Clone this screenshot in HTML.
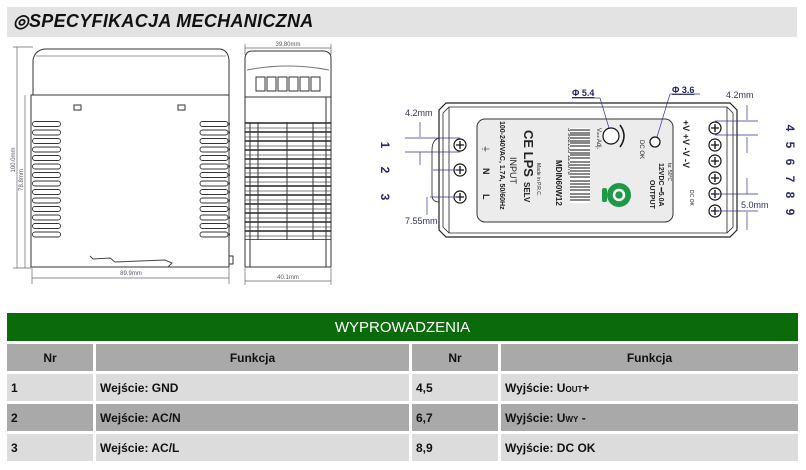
<!DOCTYPE html>
<html><head><meta charset="utf-8"><style>
body{margin:0;background:#fff;width:806px;height:470px;overflow:hidden;font-family:"Liberation Sans",sans-serif}
.title{position:absolute;left:7px;top:7px;width:790px;height:30px;background:#e3e3e3}
.title span{position:absolute;left:6px;top:4px;font-size:18px;font-weight:bold;font-style:italic;color:#111;letter-spacing:0.3px}
table{position:absolute;left:4px;top:310px;width:797px;border-collapse:collapse;font-family:"Liberation Sans",sans-serif;font-size:12px;font-weight:bold;color:#111}
td{border:3px solid #fff;padding:0 4px;height:27px}
.g{background:#0b6b0b;color:#fff;text-align:center;font-size:15px;font-weight:normal;height:28px}
.h td{background:#a9a9a9;text-align:center}
.r1 td,.r3 td{background:#dcdcdc}
.r2 td{background:#a9a9a9}
</style></head><body>
<div class="title"><span>&#9678;SPECYFIKACJA MECHANICZNA</span></div>
<svg width="806" height="300" style="position:absolute;left:0;top:0" font-family="Liberation Sans,sans-serif">
<defs>
<pattern id="vl" x="32" y="120" width="30" height="8.5" patternUnits="userSpaceOnUse"><rect x="0.5" y="1.5" width="28" height="5" rx="2.5" fill="none" stroke="#333" stroke-width="0.9"/></pattern>
<pattern id="vr" x="199" y="120" width="30" height="8.5" patternUnits="userSpaceOnUse"><rect x="1" y="1.5" width="28" height="5" rx="2.5" fill="none" stroke="#333" stroke-width="0.9"/></pattern>
<pattern id="vs" x="0" y="122" width="90" height="9" patternUnits="userSpaceOnUse"><line x1="0" y1="1" x2="90" y2="1" stroke="#222" stroke-width="1.6"/><line x1="0" y1="6" x2="90" y2="6" stroke="#555" stroke-width="0.8"/></pattern>
</defs>
<g fill="none" stroke="#333" stroke-width="1">
<path d="M33 95 L33 60 Q35 50 45 49 L220 49 Q228 50 229 60 L229 95"/>
<line x1="36" y1="56" x2="226" y2="56" stroke="#999"/>
<rect x="31" y="95" width="198" height="172"/>
<rect x="74" y="105" width="7" height="5"/><rect x="178" y="105" width="7" height="5"/>
<rect x="31" y="120" width="31" height="119" fill="url(#vl)" stroke="none"/>
<rect x="199" y="120" width="31" height="119" fill="url(#vr)" stroke="none"/>
<path d="M90 256 L93 259 L110 258 L115 262 L165 260 L172 263 L168 267" stroke="#444"/>
<rect x="229" y="256" width="4" height="8"/>
<path d="M245 97 L245 58 Q246 51 252 51 L324 51 Q331 52 331 58 L331 97"/>
<path d="M247 70 Q288 62 329 70" stroke="#777"/>
<rect x="256" y="77" width="9" height="14"/><rect x="267" y="77" width="9" height="14"/><rect x="278" y="77" width="9" height="14"/><rect x="289" y="77" width="9" height="14"/><rect x="300" y="77" width="9" height="14"/><rect x="311" y="77" width="9" height="14"/>
<rect x="245" y="97" width="86" height="170"/>
<rect x="245" y="122" width="86" height="118" fill="url(#vs)" stroke="none"/>
<line x1="250" y1="122" x2="250" y2="267"/><line x1="258" y1="122" x2="258" y2="240"/><line x1="287" y1="122" x2="287" y2="240"/><line x1="313" y1="122" x2="313" y2="240"/><line x1="326" y1="97" x2="326" y2="267"/>
</g>
<g stroke="#666" stroke-width="0.7">
<line x1="17" y1="47" x2="17" y2="268"/><line x1="13" y1="47" x2="33" y2="47"/>
<line x1="25" y1="95" x2="25" y2="268"/><line x1="13" y1="268" x2="31" y2="268"/>
<line x1="32" y1="278" x2="229" y2="278"/><line x1="32" y1="268" x2="32" y2="284"/><line x1="229" y1="268" x2="229" y2="284"/>
<line x1="245" y1="48" x2="331" y2="48"/><line x1="245" y1="44" x2="245" y2="55"/><line x1="331" y1="44" x2="331" y2="55"/>
<line x1="245" y1="281" x2="331" y2="281"/><line x1="245" y1="268" x2="245" y2="285"/><line x1="331" y1="268" x2="331" y2="285"/>
</g>
<g font-size="6" fill="#556">
<text x="131" y="275" text-anchor="middle">89.9mm</text>
<text x="288" y="46" text-anchor="middle">39.80mm</text>
<text x="288" y="279" text-anchor="middle">40.1mm</text>
<text transform="translate(15,160) rotate(-90)" text-anchor="middle">100.0mm</text>
<text transform="translate(23,180) rotate(-90)" text-anchor="middle">78.8mm</text>
</g>
<g fill="none" stroke="#222" stroke-width="1.2">
<path d="M446 103 L730 103 L737 110 L737 230 L730 237 L446 237 L439 230 L439 110 Z"/>
<path d="M449 107 L727 107 L733 113 L733 227 L727 233 L449 233 L443 227 L443 113 Z" stroke-width="0.8"/>
<line x1="449" y1="107" x2="449" y2="233" stroke-width="0.8"/><line x1="727" y1="107" x2="727" y2="233" stroke-width="0.8"/>
<path d="M439 138 Q432 140 432 150 L432 195 Q432 202 439 202" stroke-width="0.8"/>
</g>
<rect x="477" y="119" width="196" height="103" rx="8" fill="#ececec" stroke="#333"/>
<g fill="#fff" stroke="#111" stroke-width="1.2">
<circle cx="460" cy="145" r="6"/><circle cx="460" cy="170" r="6"/><circle cx="460" cy="197" r="6"/>
<circle cx="715" cy="128" r="6"/><circle cx="715" cy="145" r="6"/><circle cx="715" cy="161" r="6"/><circle cx="715" cy="178" r="6"/><circle cx="715" cy="194" r="6"/><circle cx="715" cy="211" r="6"/>
</g>
<g stroke="#111" stroke-width="1.3">
<path d="M456 145h8M460 141v8M456 170h8M460 166v8M456 197h8M460 193v8"/>
<path d="M711 128h8M715 124v8M711 145h8M715 141v8M711 161h8M715 157v8M711 178h8M715 174v8M711 194h8M715 190v8M711 211h8M715 207v8"/>
</g>
<g stroke="#339" stroke-width="0.7">
<line x1="405" y1="138" x2="460" y2="138"/><line x1="405" y1="152" x2="460" y2="152"/>
<line x1="420" y1="122" x2="420" y2="137"/><line x1="420" y1="152" x2="420" y2="165"/>
<line x1="433" y1="170" x2="460" y2="170"/><line x1="430" y1="197" x2="460" y2="197"/><line x1="427" y1="197" x2="427" y2="215"/>
<line x1="715" y1="121" x2="758" y2="121"/><line x1="715" y1="135" x2="758" y2="135"/>
<line x1="747" y1="105" x2="747" y2="120"/><line x1="747" y1="137" x2="747" y2="153"/>
<line x1="715" y1="194" x2="758" y2="194"/><line x1="715" y1="211" x2="758" y2="211"/>
<line x1="747" y1="178" x2="747" y2="194"/><line x1="747" y1="212" x2="747" y2="230"/>
<line x1="572" y1="98" x2="600" y2="98"/><line x1="600" y1="98" x2="609" y2="128"/>
<line x1="670" y1="94" x2="700" y2="94"/><line x1="670" y1="94" x2="657" y2="137"/>
</g>
<g font-size="9" fill="#336">
<text x="405" y="116">4.2mm</text><text x="405" y="224">7.55mm</text>
<text x="726" y="98">4.2mm</text><text x="741" y="208">5.0mm</text>
</g>
<g font-size="9" font-weight="bold" fill="#226" text-decoration="underline">
<text x="572" y="96">&#934; 5.4</text><text x="672" y="93">&#934; 3.6</text>
</g>
<g font-size="12" font-weight="bold" fill="#2a2a6a">
<text transform="translate(381,145) rotate(90)" text-anchor="middle">1</text>
<text transform="translate(381,170) rotate(90)" text-anchor="middle">2</text>
<text transform="translate(381,197) rotate(90)" text-anchor="middle">3</text>
<text transform="translate(786,128) rotate(90)" text-anchor="middle">4</text>
<text transform="translate(786,145) rotate(90)" text-anchor="middle">5</text>
<text transform="translate(786,162) rotate(90)" text-anchor="middle">6</text>
<text transform="translate(786,179) rotate(90)" text-anchor="middle">7</text>
<text transform="translate(786,195) rotate(90)" text-anchor="middle">8</text>
<text transform="translate(786,212) rotate(90)" text-anchor="middle">9</text>
</g>
<g fill="#222" font-family="Liberation Sans,sans-serif">
<text transform="translate(500,121) rotate(90)" font-size="7" font-weight="bold">100-240VAC, 1.7A, 50/60Hz</text>
<text transform="translate(510,157) rotate(90)" font-size="9">INPUT</text>
<text transform="translate(524,130) rotate(90)" font-size="13" font-weight="bold">CE LPS</text>
<text transform="translate(524,182) rotate(90)" font-size="8" font-weight="bold">SELV</text>
<text transform="translate(537,163) rotate(90)" font-size="5">Made in P.R.C.</text>
<text transform="translate(483,145) rotate(90)" font-size="8">&#9178;</text>
<text transform="translate(483,168) rotate(90)" font-size="9" font-weight="bold">N</text>
<text transform="translate(483,194) rotate(90)" font-size="9" font-weight="bold">L</text>
<text transform="translate(556,160) rotate(90)" font-size="8" font-weight="bold">MDIN60W12</text>
<text transform="translate(568,128) rotate(90)" font-size="6">5 902135 123678</text>
<text transform="translate(597,128) rotate(90)" font-size="6">V<tspan font-size="4">out</tspan> Adj.</text>
<text transform="translate(640,140) rotate(90)" font-size="6">DC OK</text>
<text transform="translate(650,180) rotate(90)" font-size="7" font-weight="bold">OUTPUT</text>
<text transform="translate(659,163) rotate(90)" font-size="7" font-weight="bold">12VDC ━5.0A</text>
<text transform="translate(668,163) rotate(90)" font-size="5">ta: 50°C</text>
<text transform="translate(683,120) rotate(90)" font-size="9" font-weight="bold">+V +V -V -V</text>
<text transform="translate(690,190) rotate(90)" font-size="5">DC OK</text>
</g>
<rect x="570" y="128" width="20" height="75" fill="#fff"/>
<g stroke="#111" stroke-width="1.1"><path d="M570 130h20M570 133h20M570 135h20M570 138h20M570 141h20M570 143h20M570 146h20M570 150h20M570 153h20M570 155h20M570 158h20M570 162h20M570 165h20M570 168h20M570 171h20M570 174h20M570 177h20M570 181h20M570 184h20M570 187h20M570 190h20M570 194h20M570 197h20M570 200h20"/></g>
<circle cx="611" cy="136" r="8" fill="#fff" stroke="#111" stroke-width="1.2"/>
<path d="M620 125 Q628 136 620 147" fill="none" stroke="#111" stroke-width="1.5"/>
<circle cx="655" cy="142" r="5" fill="#fff" stroke="#111" stroke-width="1.2"/>
<circle cx="619" cy="195" r="12" fill="#1e9a46"/>
<circle cx="619" cy="195" r="5" fill="none" stroke="#fff" stroke-width="2.5"/>
<rect x="602" y="188" width="5" height="14" rx="2" fill="#1e9a46"/>
</svg>
<table>
<tr><td class="g" colspan="4">WYPROWADZENIA</td></tr>
<tr class="h"><td style="width:78px">Nr</td><td style="width:305px">Funkcja</td><td style="width:78px">Nr</td><td>Funkcja</td></tr>
<tr class="r1"><td>1</td><td>Wejście: GND</td><td>4,5</td><td>Wyjście: U<span style="font-size:8px">OUT</span>+</td></tr>
<tr class="r2"><td>2</td><td>Wejście: AC/N</td><td>6,7</td><td>Wyjście: U<span style="font-size:8px">WY</span> -</td></tr>
<tr class="r3"><td>3</td><td>Wejście: AC/L</td><td>8,9</td><td>Wyjście: DC OK</td></tr>
</table>
</body></html>
